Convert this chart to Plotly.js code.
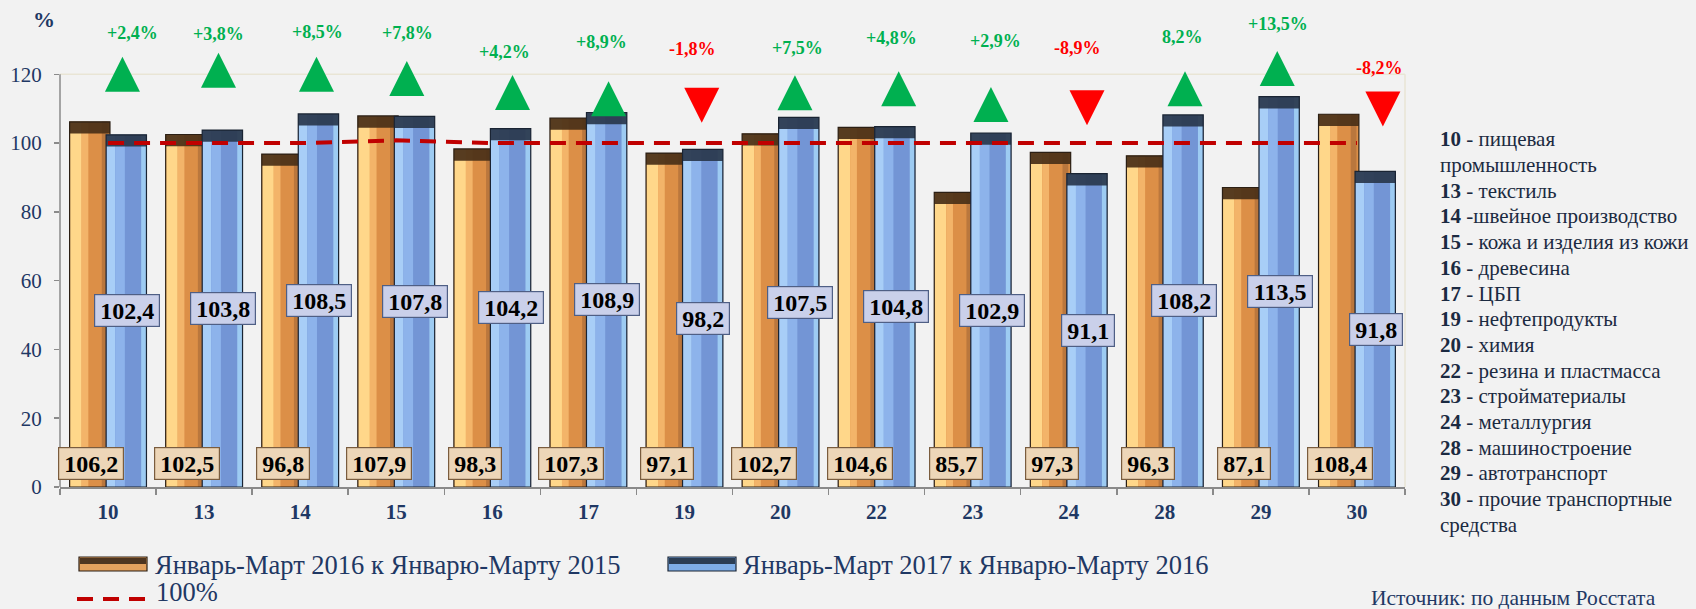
<!DOCTYPE html>
<html><head><meta charset="utf-8">
<script src="https://cdn.plot.ly/plotly-3.0.1.min.js"></script>
<style>html,body{margin:0;padding:0;background:#F2F2F2;} #chart{width:1696px;height:609px;}</style>
</head><body><div id="chart"></div>
<script>
// ---- data ----
const categories = ['10','13','14','15','16','17','19','20','22','23','24','28','29','30'];
const series2016 = [106.2,102.5,96.8,107.9,98.3,107.3,97.1,102.7,104.6,85.7,97.3,96.3,87.1,108.4];
const series2017 = [102.4,103.8,108.5,107.8,104.2,108.9,98.2,107.5,104.8,102.9,91.1,108.2,113.5,91.8];
const line100 = [100,100,100,100.8,100,100,100,100,100,100,100,100,100,100];
const changeLabels = ['+2,4%','+3,8%','+8,5%','+7,8%','+4,2%','+8,9%','-1,8%','+7,5%','+4,8%','+2,9%','-8,9%','8,2%','+13,5%','-8,2%'];
const labels2016 = ['106,2','102,5','96,8','107,9','98,3','107,3','97,1','102,7','104,6','85,7','97,3','96,3','87,1','108,4'];
const labels2017 = ['102,4','103,8','108,5','107,8','104,2','108,9','98,2','107,5','104,8','102,9','91,1','108,2','113,5','91,8'];
const yTicks = [0,20,40,60,80,100,120];
const seriesNames = ['Январь-Март 2016 к Январю-Марту 2015','Январь-Март 2017 к Январю-Марту 2016','100%'];
const noteLines = ['<b>10</b> - пищевая','промышленность','<b>13</b> - текстиль','<b>14</b> -швейное производство',
  '<b>15 -</b> кожа и изделия из кожи','<b>16</b> - древесина','<b>17</b> - ЦБП','<b>19</b> - нефтепродукты',
  '<b>20</b> - химия','<b>22</b> - резина и пластмасса','<b>23</b> - стройматериалы','<b>24</b> - металлургия',
  '<b>28</b> - машиностроение','<b>29</b> - автотранспорт','<b>30</b> - прочие транспортные','средства'];
const sourceText = 'Источник: по данным Росстата';

// ---- placement of the arrow markers / change labels (layout, not data) ----
const arrowDx = [0.15,0.15,0.17,0.11,0.21,0.21,0.18,0.15,0.23,0.19,0.19,0.21,0.17,0.27];
const arrowTipY = [125.1,126.3,125.1,123.9,119.8,118.0,105.9,119.7,120.9,116.3,105.2,120.9,126.8,104.8];
const changeLabelY = [132.1,131.6,132.4,132.1,126.6,129.5,127.5,127.8,130.7,129.7,127.8,130.8,134.7,121.7];
const changeLabelDx = [24,14,17,11,12,13,8,17,15,23,9,18,17,23];

// ---- geometry helpers ----
const YMAX = 139;
const PL=60, PW=1345, PT=9, PH=478;
const xp = px => (px-PL)/PW;
const yp = py => (PT+PH-py)/PH;
const idx = categories.map((c,i)=>i);
const FONT = 'Liberation Serif';
const NAVY = '#1F3864';

function bar(y, base, color, width, offset, line){
  const t = {type:'bar', x:idx, y:y, width:width, offset:offset,
    marker:{color:color, line:line||{width:0}}, hoverinfo:'skip', showlegend:false};
  if(base) t.base = base;
  return t;
}
const capH = 3.4;
const traces = [
  // orange series
  bar(series2016, null, '#DC8F47', 0.42, -0.40),
  bar(series2016, null, '#FFD78A', 0.12, -0.395),
  bar(series2016, null, '#F3B469', 0.07, -0.275),
  bar(series2016, null, '#BA773D', 0.06, -0.065),
  bar(series2016.map(()=>capH), series2016.map(v=>v-capH), 'rgba(74,48,24,0.93)', 0.42, -0.40),
  bar(series2016, null, 'rgba(0,0,0,0)', 0.42, -0.40, {color:'#2B1F14', width:1.2}),
  // blue series
  bar(series2017, null, '#7395D5', 0.42, -0.02),
  bar(series2017, null, '#A8CEF7', 0.09, -0.015),
  bar(series2017, null, '#8DB3EB', 0.10, 0.075),
  bar(series2017, null, '#9DCBF2', 0.05, 0.345),
  bar(series2017.map(()=>capH), series2017.map(v=>v-capH), 'rgba(42,56,78,0.93)', 0.42, -0.02),
  bar(series2017, null, 'rgba(0,0,0,0)', 0.42, -0.02, {color:'#1A2433', width:1.2}),
  // 100% line
  {type:'scatter', mode:'lines', x:idx, y:line100, line:{color:'#C00000', width:4, dash:'16px,10px'},
   hoverinfo:'skip', showlegend:false},
  // arrows
  {type:'scatter', mode:'markers', x:idx.map(i=>i+arrowDx[i]), y:arrowTipY, cliponaxis:false,
   marker:{symbol:series2017.map(v=>v>=100?'arrow-up':'arrow-down'), size:35,
     color:series2017.map(v=>v>=100?'#00B050':'#FF0000'), line:{width:0}},
   hoverinfo:'skip', showlegend:false}
];

const annotations = [];
idx.forEach(i=>{
  annotations.push({x:i, y:changeLabelY[i], xref:'x', yref:'y', xshift:changeLabelDx[i],
    xanchor:'center', yanchor:'middle',
    text:'<b>'+changeLabels[i]+'</b>', showarrow:false,
    font:{family:FONT, size:18, color: series2017[i]>=100?'#00B050':'#FF0000'}});
});
idx.forEach(i=>{
  annotations.push({x:i, y:0, xref:'x', yref:'y', xshift:-17, yshift:7, xanchor:'center', yanchor:'bottom',
    text:'<b>'+labels2016[i]+'</b>', showarrow:false, width:12*labels2016[i].length+2, height:29,
    bgcolor:'#EDD6B8', bordercolor:'#7A5C3E', borderwidth:1.2, borderpad:1,
    font:{family:FONT, size:24, color:'#000'}});
  annotations.push({x:i, y:series2017[i]/2, xref:'x', yref:'y', xshift:19, xanchor:'center', yanchor:'middle',
    text:'<b>'+labels2017[i]+'</b>', showarrow:false, width:12*labels2017[i].length+2, height:29,
    bgcolor:'#CAD0EA', bordercolor:'#4F5F85', borderwidth:1.2, borderpad:1,
    font:{family:FONT, size:24, color:'#000'}});
});
annotations.push({x:xp(44), y:yp(20), xref:'paper', yref:'paper', xanchor:'center', yanchor:'middle',
  text:'<b>%</b>', showarrow:false, font:{family:FONT, size:22, color:NAVY}});
noteLines.forEach((t,k)=>{
  annotations.push({x:xp(1438), y:yp(139.3+25.7*k), xref:'paper', yref:'paper', xanchor:'left', yanchor:'middle',
    align:'left', text:t, showarrow:false, font:{family:FONT, size:21, color:'#1B2A41'}});
});
annotations.push({x:xp(1658), y:yp(598), xref:'paper', yref:'paper', xanchor:'right', yanchor:'middle',
  text:sourceText, showarrow:false, font:{family:FONT, size:21.5, color:NAVY}});
annotations.push({x:xp(153), y:yp(565), xref:'paper', yref:'paper', xanchor:'left', yanchor:'middle',
  text:seriesNames[0], showarrow:false, font:{family:FONT, size:26.5, color:NAVY}});
annotations.push({x:xp(741), y:yp(565), xref:'paper', yref:'paper', xanchor:'left', yanchor:'middle',
  text:seriesNames[1], showarrow:false, font:{family:FONT, size:26.5, color:NAVY}});
annotations.push({x:xp(154), y:yp(609), xref:'paper', yref:'paper', xanchor:'left', yanchor:'bottom',
  text:seriesNames[2], showarrow:false, font:{family:FONT, size:26.5, color:NAVY}});

const shapes = [
  {type:'line', xref:'paper', yref:'y', x0:0, x1:1, y0:120, y1:120, line:{color:'#E9E5D5', width:1.5}, layer:'below'},
  {type:'line', xref:'paper', yref:'y', x0:1, x1:1, y0:0, y1:120, line:{color:'#E9E5D5', width:1.5}, layer:'below'},
  {type:'line', xref:'paper', yref:'y', x0:0, x1:0, y0:0, y1:120, line:{color:'#8A8A8A', width:1.5}},
  {type:'rect', xref:'paper', yref:'paper', x0:xp(79), x1:xp(147), y0:yp(571), y1:yp(557), fillcolor:'#E3A15E', line:{color:'#2B1F14', width:1.2}},
  {type:'rect', xref:'paper', yref:'paper', x0:xp(80), x1:xp(146), y0:yp(564), y1:yp(558), fillcolor:'#4E3520', line:{width:0}},
  {type:'rect', xref:'paper', yref:'paper', x0:xp(668), x1:xp(736), y0:yp(571), y1:yp(557), fillcolor:'#7FAEE8', line:{color:'#1A2433', width:1.2}},
  {type:'rect', xref:'paper', yref:'paper', x0:xp(669), x1:xp(735), y0:yp(564), y1:yp(558), fillcolor:'#2C3E55', line:{width:0}},
  {type:'line', xref:'paper', yref:'paper', x0:xp(77), x1:xp(148), y0:yp(599), y1:yp(599), line:{color:'#C00000', width:4, dash:'16px,10px'}}
];

const layout = {
  width:1696, height:609,
  font:{family:FONT, color:NAVY},
  margin:{l:PL, r:1696-PL-PW, t:PT, b:609-PT-PH},
  paper_bgcolor:'#F2F2F2', plot_bgcolor:'#F2F2F2',
  barmode:'overlay', showlegend:false,
  xaxis:{range:[-0.5,13.5], tickmode:'array', tickvals:idx, ticktext:categories.map(c=>'<b>'+c+'</b>'), ticks:'',
    showline:true, linecolor:'#8A8A8A', linewidth:1.5, showgrid:false, zeroline:false,
    tickfont:{family:FONT, size:21, color:NAVY}, ticklabelstandoff:5,
    minor:{tickmode:'linear', tick0:-0.5, dtick:1, ticks:'outside', ticklen:6, tickcolor:'#8A8A8A', tickwidth:1.5, showgrid:false},
    fixedrange:true},
  yaxis:{range:[0,YMAX], tickmode:'array', tickvals:yTicks, ticks:'outside', ticklen:5,
    tickcolor:'#8A8A8A', tickwidth:1.5, showline:false,
    showgrid:false, zeroline:false, tickfont:{family:FONT, size:21, color:NAVY}, ticklabelstandoff:8,
    fixedrange:true},
  annotations:annotations, shapes:shapes
};
Plotly.newPlot('chart', traces, layout, {displayModeBar:false, staticPlot:true});
</script></body></html>
